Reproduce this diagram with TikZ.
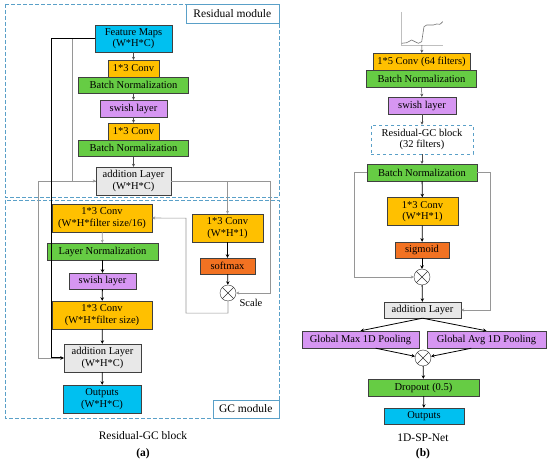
\documentclass[tikz,border=0pt]{standalone}
\usepackage{fontspec}
\setmainfont{Liberation Serif}
\usetikzlibrary{positioning,arrows.meta,calc}

\definecolor{iocyan}{RGB}{0,192,240}
\definecolor{convorange}{RGB}{255,192,0}
\definecolor{normgreen}{RGB}{102,204,68}
\definecolor{swishviolet}{RGB}{214,150,242}
\definecolor{actorange}{RGB}{242,114,34}
\definecolor{addgray}{RGB}{232,232,232}
\definecolor{framecol}{RGB}{90,160,200}
\definecolor{linkgray}{RGB}{150,150,150}

\begin{document}
\begin{tikzpicture}[
  x=1pt, y=-1pt,
  blk/.style={draw=black!75, minimum height=17pt, inner sep=1pt, align=center,
              font=\fontsize{10.5}{11.5}\selectfont},
  io/.style={blk, fill=iocyan},
  conv/.style={blk, fill=convorange},
  bn/.style={blk, fill=normgreen},
  swish/.style={blk, fill=swishviolet},
  act/.style={blk, fill=actorange},
  add/.style={blk, fill=addgray},
  rgc/.style={blk, draw=framecol, dashed, thick, fill=white},
  mul/.style={circle, draw=black!80, fill=white, minimum size=16pt, inner sep=0pt,
              path picture={\draw[black!80]
                (path picture bounding box.north west) -- (path picture bounding box.south east)
                (path picture bounding box.north east) -- (path picture bounding box.south west);}},
  frame/.style={draw=framecol, dash pattern=on 4pt off 2pt, line width=0.8pt},
  tag/.style={draw=framecol, fill=white, inner sep=2pt, font=\fontsize{11.5}{12}\selectfont},
  capt/.style={font=\fontsize{11.5}{12}\selectfont},
  sar/.style={-{Stealth[length=3pt,width=3pt]}, black!70, line width=0.5pt},
  bar/.style={-{Stealth[length=3.5pt,width=3.5pt]}, black, line width=0.8pt},
  gar/.style={-{Stealth[length=3pt,width=3pt]}, linkgray, line width=0.6pt}
]
\useasboundingbox (0,0) rectangle (550,462);

% (a) frames
\draw[frame] (5,4) rectangle (279,197);
\draw[frame] (5,200) rectangle (279,418);
\node[tag, anchor=north east, minimum width=93pt, minimum height=19pt] (tagres) at (279,4) {Residual module};
\node[tag, anchor=south east, minimum width=66pt, minimum height=18pt] (taggc) at (279,418) {GC module};

% (a) residual module
\node[io, minimum width=77pt, minimum height=27pt] (fm) at (133.5,38.5) {Feature Maps\\(W*H*C)};
\node[conv, minimum width=51pt] (ca) at (133.5,68.5) {1*3 Conv};
\node[bn, below=0pt of ca, minimum width=110pt, minimum height=16pt] (bna) {Batch Normalization};
\node[swish, minimum width=67pt] (swa) at (133.5,108.5) {swish layer};
\node[conv, minimum width=51pt] (cb) at (133.5,131.5) {1*3 Conv};
\node[bn, below=0pt of cb, minimum width=110pt, minimum height=16pt] (bnb) {Batch Normalization};
\node[add, minimum width=75pt, minimum height=28pt] (adda) at (133.5,181) {addition Layer\\(W*H*C)};

% (a) GC module
\node[conv, minimum width=100pt, minimum height=28pt] (gca) at (102,218) {1*3 Conv\\(W*H*filter size/16)};
\node[bn, minimum width=111pt] (ln) at (102.5,251.5) {Layer Normalization};
\node[swish, minimum width=67pt, minimum height=16pt] (swb) at (102.5,281) {swish layer};
\node[conv, minimum width=100pt, minimum height=28pt] (gcb) at (102,315) {1*3 Conv\\(W*H*filter size)};
\node[add, minimum width=77pt, minimum height=28pt] (addb) at (102.5,358) {addition Layer\\(W*H*C)};
\node[io, minimum width=78pt, minimum height=28pt] (outa) at (102,399) {Outputs\\(W*H*C)};
\node[conv, minimum width=71pt, minimum height=28pt] (kc) at (227.5,228) {1*3 Conv\\(W*H*1)};
\node[act, minimum width=55pt, minimum height=16pt] (sm) at (227.5,266) {softmax};
\node[mul] (mula) at (228,293) {};
\node[font=\fontsize{10.5}{11}\selectfont] (scl) at (251,303) {Scale};

\node[capt] (capa) at (143,436) {Residual-GC block};
\node[capt, font=\fontsize{11.5}{12}\selectfont\bfseries] (laba) at (143,454) {(a)};

% (a) links
\draw[gar] ($(fm.west)+(-23,0)$) |- (adda.west);
\draw[gar] (adda.west) -- ++(-58,0) |- (addb.west);
\draw[gar] (adda.east) -| (kc.north);
\draw[gar] (adda.east) -- ++(99,0) |- (mula.east);
\draw[gar] (mula.south) -- ++(0,12) -| ++(-42,-95) -- (gca.east);
\draw[bar, line width=1pt] (fm.west) -- ++(-43,0) |- (addb.west);
\draw[sar] (fm) -- (ca);
\draw[sar] (bna) -- (swa);
\draw[sar] (swa) -- (cb);
\draw[sar] (bnb) -- (adda);
\draw[gar] (gca) -- (ln);
\draw[bar] (ln) -- (swb);
\draw[bar] (swb) -- (gcb);
\draw[bar] (gcb) -- (addb);
\draw[bar] (addb) -- (outa);
\draw[bar] (kc) -- (sm);
\draw[bar] (sm) -- (mula);

% (b) input signal
\draw[black!25, line width=0.5pt] (401,12) -- (401,45) -- (443,45);
\draw[black!55, line width=0.6pt] (401.7,43.3) -- (406.7,42.7) -- (411.7,40) -- (415,41.7)
  -- (418.3,43.3) -- (421.7,41.7) -- (424,26.7) -- (426.7,25) -- (433.3,25)
  -- (436.7,24) -- (440,24.3) -- (442.7,21.7);
\coordinate (sigb) at (422,45);

% (b) 1D-SP-Net
\node[conv, minimum width=97pt] (cv5) at (421.5,61.5) {1*5 Conv (64 filters)};
\node[bn, below=0pt of cv5, minimum width=110pt] (bnc) {Batch Normalization};
\node[swish, minimum width=68pt] (swc) at (422,105.5) {swish layer};
\node[rgc, minimum width=102pt, minimum height=29pt] (rgcb) at (422,139.5) {Residual-GC block\\(32 filters)};
\node[bn, minimum width=110pt] (bnd) at (422,172.5) {Batch Normalization};
\node[conv, minimum width=71pt, minimum height=28pt] (cv3) at (422.5,211.5) {1*3 Conv\\(W*H*1)};
\node[act, minimum width=54pt, minimum height=16pt] (sg) at (422,250) {sigmoid};
\node[mul] (mulb) at (422,277) {};
\node[add, minimum width=77pt, minimum height=16pt] (addc) at (422.5,310) {addition Layer};
\node[swish, minimum width=117pt] (gmp) at (360.5,339.5) {Global Max 1D Pooling};
\node[swish, minimum width=119pt] (gavp) at (486.5,339.5) {Global Avg 1D Pooling};
\node[mul] (mulc) at (423,358) {};
\node[bn, minimum width=111pt] (drop) at (423.5,387.5) {Dropout (0.5)};
\node[io, minimum width=80pt, minimum height=16pt] (outb) at (424,416) {Outputs};

\node[capt] (capb) at (423,438) {1D-SP-Net};
\node[capt, font=\fontsize{11.5}{12}\selectfont\bfseries] (labb) at (423,454) {(b)};

% (b) links
\draw[sar] (sigb) -- (cv5);
\draw[sar] (bnc) -- (swc);
\draw[sar] (swc) -- (rgcb);
\draw[sar] (rgcb) -- (bnd);
\draw[gar] (bnd.west) -- ++(-13,0) |- (mulb.west);
\draw[gar] (bnd.east) -- ++(13,0) |- (addc.east);
\draw[bar] (bnd) -- (cv3);
\draw[bar] (cv3) -- (sg);
\draw[bar] (sg) -- (mulb);
\draw[bar] (mulb) -- (addc);
\draw[bar] (addc.south) -- (gmp.north);
\draw[bar] (addc.south) -- (gavp.north);
\draw[bar] (gmp.-30) -- (mulc);
\draw[bar] (gavp.-150) -- (mulc);
\draw[bar] (mulc) -- (drop);
\draw[bar] (drop) -- (outb);
\end{tikzpicture}
\end{document}
